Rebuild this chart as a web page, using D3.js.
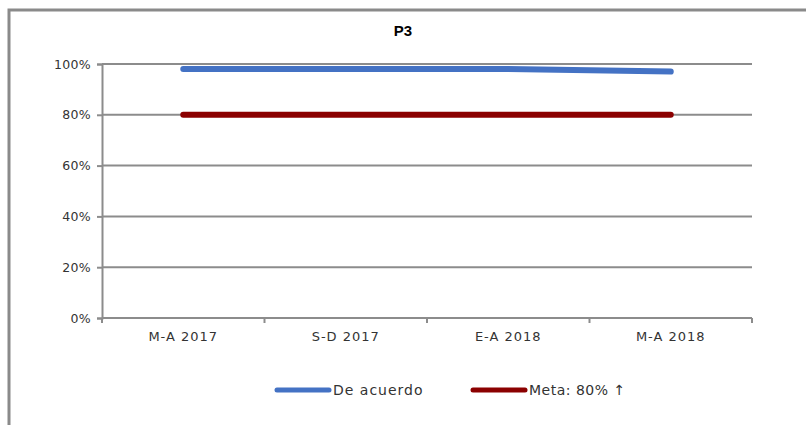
<!DOCTYPE html>
<html><head><meta charset="utf-8">
<script src="https://cdn.jsdelivr.net/npm/d3@7"></script>
<style>body{margin:0;background:#fff;}svg{display:block;font-family:"DejaVu Sans",sans-serif;}</style>
</head><body>
<svg id="c" width="806" height="425"></svg>
<script>
const categories = ["M-A 2017", "S-D 2017", "E-A 2018", "M-A 2018"];
const deAcuerdo = [0.98, 0.98, 0.98, 0.97];
const meta = [0.80, 0.80, 0.80, 0.80];
const yTicks = [0, 0.2, 0.4, 0.6, 0.8, 1.0];
const seriesNames = ["De acuerdo", "Meta: 80% ↑"];

const FONT = "DejaVu Sans, sans-serif";
const svg = d3.select("#c");
// frame
svg.append("path").attr("d","M9,425 V10 H806").attr("fill","none").attr("stroke","#8a8a8a").attr("stroke-width",3);

svg.append("text").attr("x",403).attr("y",36).attr("text-anchor","middle")
  .attr("font-weight","bold").attr("font-size",15).attr("fill","#000").attr("font-family","Liberation Sans, sans-serif").text("P3");

const x = d3.scaleBand().domain(categories).range([102,752]);
const y = d3.scaleLinear().domain([0,1]).range([318,64]);

// gridlines
svg.append("g").selectAll("line").data(yTicks).join("line")
  .attr("x1",102).attr("x2",752).attr("y1",d=>y(d)).attr("y2",d=>y(d))
  .attr("stroke","#8c8c8c").attr("stroke-width",2);

// y axis
const ya = svg.append("g").attr("transform","translate(102,0)")
  .call(d3.axisLeft(y).tickValues(yTicks).tickFormat(d3.format(".0%")).tickSize(5).tickPadding(6));
ya.select(".domain").attr("stroke","#8c8c8c").attr("stroke-width",2);
ya.selectAll(".tick line").attr("stroke","#8c8c8c").attr("stroke-width",2);
ya.selectAll("text").attr("font-size",12.5).attr("fill","#333").attr("font-family",FONT).attr("letter-spacing",0.3);

// x axis
const xa = svg.append("g").attr("transform","translate(0,318)")
  .call(d3.axisBottom(x).tickSize(0).tickPadding(14));
xa.select(".domain").remove();
xa.selectAll("text").attr("font-size",13).attr("fill","#333").attr("font-family",FONT).attr("letter-spacing",1);
const edges = categories.map(c=>x(c)).concat([x.range()[1]]);
svg.append("line").attr("x1",102).attr("x2",752).attr("y1",318).attr("y2",318).attr("stroke","#8c8c8c").attr("stroke-width",2);
svg.append("g").selectAll("line").data(edges).join("line")
  .attr("x1",d=>d).attr("x2",d=>d).attr("y1",318).attr("y2",323)
  .attr("stroke","#8c8c8c").attr("stroke-width",2);

const line = d3.line().x((d,i)=>x(categories[i])+x.bandwidth()/2).y(d=>y(d));
svg.append("path").datum(meta).attr("d",line).attr("fill","none")
  .attr("stroke","#8b0000").attr("stroke-width",6).attr("stroke-linecap","round");
svg.append("path").datum(deAcuerdo).attr("d",line).attr("fill","none")
  .attr("stroke","#4472c4").attr("stroke-width",6).attr("stroke-linecap","round").attr("stroke-linejoin","round");

// legend
const leg = [{name:seriesNames[0],color:"#4472c4",x:277,ls:1},{name:seriesNames[1],color:"#8b0000",x:473,ls:0.5}];
const lg = svg.append("g").selectAll("g").data(leg).join("g");
lg.append("line").attr("x1",d=>d.x).attr("x2",d=>d.x+52).attr("y1",390).attr("y2",390)
  .attr("stroke",d=>d.color).attr("stroke-width",5).attr("stroke-linecap","round");
lg.append("text").attr("x",d=>d.x+56).attr("y",395).attr("font-size",14).attr("fill","#333")
  .attr("font-family",FONT).attr("letter-spacing",d=>d.ls).text(d=>d.name);
</script>
</body></html>
